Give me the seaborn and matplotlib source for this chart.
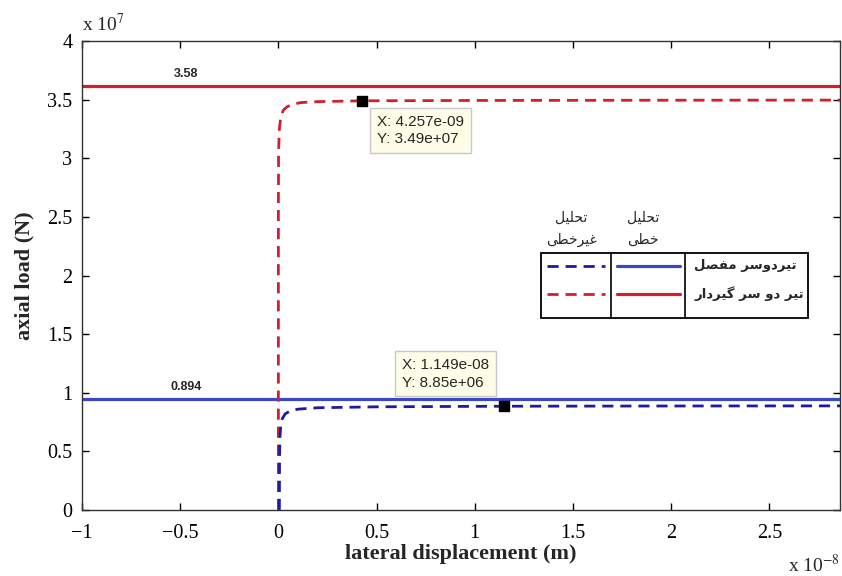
import numpy as np
import pandas as pd
import seaborn as sns
import matplotlib.pyplot as plt
from matplotlib.patches import Rectangle
from matplotlib.lines import Line2D
from matplotlib.ticker import FixedLocator, FuncFormatter

# data (x in 1e-8 m, y in 1e7 N)
red_x = [0.0, 0.0, 0.001, 0.005, 0.012, 0.025, 0.045, 0.075, 0.11, 0.2, 0.4257, 1.0, 2.0, 2.9]
red_y = [0.0, 2.6, 3.05, 3.25, 3.35, 3.41, 3.44, 3.46, 3.474, 3.483, 3.49, 3.493, 3.495, 3.496]
blue_x = [0.005, 0.006, 0.008, 0.012, 0.02, 0.035, 0.06, 0.1, 0.2, 0.5, 1.149, 2.0, 2.9]
blue_y = [0.0, 0.45, 0.62, 0.72, 0.78, 0.82, 0.845, 0.86, 0.872, 0.88, 0.885, 0.887, 0.888]
red_linear = 3.62
blue_linear = 0.945
red_label = "3.58"
blue_label = "0.894"
tip_x = [0.4257, 1.149]
tip_y = [3.49, 0.885]
tip_text = ["X: 4.257e-09\nY: 3.49e+07", "X: 1.149e-08\nY: 8.85e+06"]
xticks = [-1, -0.5, 0, 0.5, 1, 1.5, 2, 2.5]
yticks = [0, 0.5, 1, 1.5, 2, 2.5, 3, 3.5, 4]

RED = "#d21f2b"
BLUE_SOLID = "#3a48c4"
BLUE_DASH = "#1c1ca0"

# simple arabic/persian shaping so matplotlib can show joined letters
FORMS = {
    'ا': ('\uFE8D', '\uFE8E', None, None),
    'ت': ('\uFE95', '\uFE96', '\uFE97', '\uFE98'),
    'ح': ('\uFEA1', '\uFEA2', '\uFEA3', '\uFEA4'),
    'خ': ('\uFEA5', '\uFEA6', '\uFEA7', '\uFEA8'),
    'د': ('\uFEA9', '\uFEAA', None, None),
    'ر': ('\uFEAD', '\uFEAE', None, None),
    'س': ('\uFEB1', '\uFEB2', '\uFEB3', '\uFEB4'),
    'ص': ('\uFEB9', '\uFEBA', '\uFEBB', '\uFEBC'),
    'ط': ('\uFEC1', '\uFEC2', '\uFEC3', '\uFEC4'),
    'غ': ('\uFECD', '\uFECE', '\uFECF', '\uFED0'),
    'ف': ('\uFED1', '\uFED2', '\uFED3', '\uFED4'),
    'ل': ('\uFEDD', '\uFEDE', '\uFEDF', '\uFEE0'),
    'م': ('\uFEE1', '\uFEE2', '\uFEE3', '\uFEE4'),
    'و': ('\uFEED', '\uFEEE', None, None),
    'ی': ('\uFBFC', '\uFBFD', '\uFBFE', '\uFBFF'),
    'گ': ('\uFB92', '\uFB93', '\uFB94', '\uFB95'),
}


def shape(text):
    out = []
    for i, c in enumerate(text):
        if c not in FORMS:
            out.append(c)
            continue
        prev = text[i - 1] if i > 0 else None
        nxt = text[i + 1] if i + 1 < len(text) else None
        jp = prev in FORMS and FORMS[prev][2] is not None
        jn = nxt in FORMS and FORMS[c][2] is not None
        iso, fin, ini, med = FORMS[c]
        if jp and jn:
            out.append(med)
        elif jp:
            out.append(fin)
        elif jn:
            out.append(ini)
        else:
            out.append(iso)
    return ''.join(reversed(out))


sns.set_theme(style="white", rc={"xtick.direction": "in", "ytick.direction": "in",
                                  "xtick.top": True, "ytick.right": True,
                                  "xtick.bottom": True, "ytick.left": True})
plt.rcParams['font.family'] = ['Liberation Serif', 'DejaVu Sans']
plt.rcParams['mathtext.fontset'] = 'stix'

fig = plt.figure(figsize=(8.42, 5.76), dpi=100)
ax = fig.add_axes([0.0974, 0.1146, 0.9002, 0.8142])

red_df = pd.DataFrame({"x": red_x, "y": red_y})
blue_df = pd.DataFrame({"x": blue_x, "y": blue_y})

ax.axhline(red_linear, color=RED, lw=2.3)
ax.axhline(blue_linear, color=BLUE_SOLID, lw=2.3)
sns.lineplot(data=red_df, x="x", y="y", sort=False, estimator=None, ax=ax,
             color=RED, lw=2.0, linestyle=(0, (4, 2.5)))
sns.lineplot(data=blue_df, x="x", y="y", sort=False, estimator=None, ax=ax,
             color=BLUE_DASH, lw=2.0, linestyle=(0, (4, 2.5)))

ax.set_xlim(-1, 2.86)
ax.set_ylim(0, 4)
ax.xaxis.set_major_locator(FixedLocator(xticks))
ax.yaxis.set_major_locator(FixedLocator(yticks))
fmt = FuncFormatter(lambda v, p: ("%g" % v).replace("-", "\u2212"))
ax.xaxis.set_major_formatter(fmt)
ax.yaxis.set_major_formatter(fmt)
ax.tick_params(labelsize=14.5, length=5, width=1, colors="black")
ax.tick_params(axis="x", pad=10)
ax.tick_params(axis="y", pad=7)
for s in ax.spines.values():
    s.set_color("#333333")
    s.set_linewidth(1.0)

ax.set_xlabel("lateral displacement (m)", fontsize=16, fontweight="bold", labelpad=1)
ax.set_ylabel("axial load (N)", fontsize=16, fontweight="bold", labelpad=9)
ax.text(0.0, 1.012, r"x 10$^{7}$", transform=ax.transAxes, fontsize=14, ha="left", va="bottom")
ax.text(1.0, -0.093, r"x 10$^{-8}$", transform=ax.transAxes, fontsize=14, ha="right", va="top")

ax.text(-0.47, red_linear + 0.05, red_label, fontsize=9, fontweight="bold",
        family="Liberation Sans", ha="center", va="bottom")
ax.text(-0.47, blue_linear + 0.05, blue_label, fontsize=9, fontweight="bold",
        family="Liberation Sans", ha="center", va="bottom")

# data tips
ax.scatter(tip_x, tip_y, marker="s", s=60, color="black", zorder=5)
box = dict(boxstyle="square,pad=0.45", fc="#fdfde8", ec="#c8c8c8", lw=1)
ax.annotate(tip_text[0], (tip_x[0], tip_y[0]), xytext=(11, -10), textcoords="offset points",
            ha="left", va="top", multialignment="left", fontsize=11, family="Liberation Sans",
            bbox=box, linespacing=1.3)
ax.annotate(tip_text[1], (tip_x[1], tip_y[1]), xytext=(-11, 12), textcoords="offset points",
            ha="right", va="bottom", multialignment="left", fontsize=11, family="Liberation Sans",
            bbox=box, linespacing=1.3)

# legend table (axes fraction)
tr = ax.transAxes
x0, x1, y0, y1 = 0.6055, 0.9578, 0.4094, 0.548
ax.add_patch(Rectangle((x0, y0), x1 - x0, y1 - y0, transform=tr, fill=False, ec="black", lw=1.3, zorder=6))
for xd in [0.698, 0.7955]:
    ax.add_line(Line2D([xd, xd], [y0, y1], transform=tr, color="black", lw=1.2, zorder=6))
ax.add_line(Line2D([0.6135, 0.69], [0.5203, 0.5203], transform=tr, color=BLUE_DASH, lw=2, ls=(0, (4, 2.5)), zorder=6))
ax.add_line(Line2D([0.6135, 0.69], [0.4606, 0.4606], transform=tr, color=RED, lw=2, ls=(0, (4, 2.5)), zorder=6))
ax.add_line(Line2D([0.706, 0.789], [0.5203, 0.5203], transform=tr, color=BLUE_SOLID, lw=2.3, zorder=6))
ax.add_line(Line2D([0.706, 0.789], [0.4606, 0.4606], transform=tr, color=RED, lw=2.3, zorder=6))

pfont = dict(family=["DejaVu Sans"], transform=tr, zorder=7)
ax.text(0.808, 0.5203, shape("تیردوسر مفصل"), fontsize=9.5, fontweight="bold", ha="left", va="center", **pfont)
ax.text(0.808, 0.4606, shape("تیر دو سر گیردار"), fontsize=9.5, fontweight="bold", ha="left", va="center", **pfont)
ax.text(0.646, 0.6226, shape("تحلیل"), fontsize=10, ha="center", va="center", **pfont)
ax.text(0.646, 0.5757, shape("غیرخطی"), fontsize=10, ha="center", va="center", **pfont)
ax.text(0.740, 0.6226, shape("تحلیل"), fontsize=10, ha="center", va="center", **pfont)
ax.text(0.740, 0.5757, shape("خطی"), fontsize=10, ha="center", va="center", **pfont)

fig.savefig("out.png", dpi=100)
